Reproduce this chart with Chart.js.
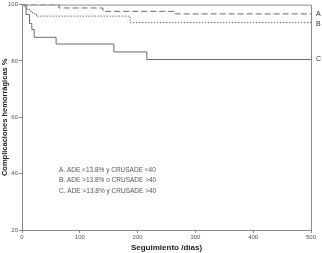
<!DOCTYPE html>
<html><head><meta charset="utf-8">
<script src="https://cdn.jsdelivr.net/npm/chart.js@4"></script>
<style>html,body{margin:0;padding:0;background:#fff;overflow:hidden}</style>
</head><body><canvas id="c" width="322" height="253" style="display:block"></canvas>
<script>
const daysA = [0, 64, 140, 265, 500];
const valsA = [100, 98.8, 97.6, 96.7, 96.7];
const daysB = [0, 4, 8, 13, 18, 25, 187, 500];
const valsB = [100, 99.2, 98.4, 97.6, 96.8, 95.9, 93.6, 93.6];
const daysC = [0, 7, 13, 17, 21, 59, 159, 216, 500];
const valsC = [100, 96.5, 93.3, 91.2, 88.4, 86.0, 83.2, 80.5, 80.5];
const endLabels = ['A', 'B', 'C'];
const legendLines = ['A. ADE <13.8% y CRUSADE <40', 'B. ADE >13.8% o CRUSADE >40', 'C. ADE >13.8% y CRUSADE >40'];
const yTicks = [20, 40, 60, 80, 100];
const xTicks = [0, 100, 200, 300, 400, 500];

const pts = (d, v) => d.map((x, i) => ({x, y: v[i]}));
const col = '#6a6a6a';
const extras = {
  id: 'extras',
  afterDraw(chart) {
    const {ctx, chartArea: a, scales} = chart;
    ctx.save();
    ctx.strokeStyle = '#8a8a8a'; ctx.lineWidth = 1;
    ctx.beginPath();
    ctx.moveTo(a.left, a.top + 0.5); ctx.lineTo(a.right + 0.5, a.top + 0.5); ctx.lineTo(a.right + 0.5, a.bottom);
    ctx.stroke();
    ctx.fillStyle = '#333'; ctx.font = '7px "Liberation Sans", Arial';
    ctx.textBaseline = 'middle';
    const finals = [valsA[valsA.length-1], valsB[valsB.length-1], valsC[valsC.length-1]];
    const offs = [0, 1.5, 0];
    endLabels.forEach((t, i) => ctx.fillText(t, a.right + 5, scales.y.getPixelForValue(finals[i]) + offs[i]));
    ctx.fillStyle = '#555'; ctx.font = '6.5px "Liberation Sans", Arial';
    legendLines.forEach((t, i) => ctx.fillText(t, 59, 170 + i * 10.5));
    ctx.restore();
  }
};
new Chart(document.getElementById('c'), {
  type: 'line',
  data: {datasets: [
    {data: pts(daysA, valsA), borderColor: col, borderWidth: 1, borderDash: [6, 3], stepped: true, pointRadius: 0, fill: false},
    {data: pts(daysB, valsB), borderColor: col, borderWidth: 1, borderDash: [1.5, 1.5], stepped: true, pointRadius: 0, fill: false},
    {data: pts(daysC, valsC), borderColor: col, borderWidth: 1, stepped: true, pointRadius: 0, fill: false}
  ]},
  options: {
    responsive: false, animation: false, devicePixelRatio: 1,
    layout: {padding: {top: 3, right: 11, left: 0, bottom: 0}},
    plugins: {legend: {display: false}, tooltip: {enabled: false}},
    scales: {
      x: {type: 'linear', min: 0, max: 500,
        afterBuildTicks: s => { s.ticks = xTicks.map(v => ({value: v})); },
        afterFit: s => { s.height = 23; },
        grid: {drawOnChartArea: false, drawTicks: true, tickLength: 3, color: '#888'},
        border: {color: '#888'},
        ticks: {font: {size: 6, family: '"Liberation Sans", Arial'}, color: '#555', padding: 1, maxRotation: 0},
        title: {display: true, text: 'Seguimiento /días)', font: {size: 8, weight: 'bold', family: '"Liberation Sans", Arial'}, color: '#222', padding: {top: 2, bottom: 0}}
      },
      y: {min: 20, max: 100,
        afterBuildTicks: s => { s.ticks = yTicks.map(v => ({value: v})); },
        afterFit: s => { s.width = 22; },
        grid: {drawOnChartArea: false, drawTicks: true, tickLength: 3, color: '#888'},
        border: {color: '#888'},
        ticks: {font: {size: 6, family: '"Liberation Sans", Arial'}, color: '#555', padding: 1},
        title: {display: true, text: 'Complicaciones hemorrágicas %', font: {size: 7.5, weight: 'bold', family: '"Liberation Sans", Arial'}, color: '#222', padding: {top: 0, bottom: 0}}
      }
    }
  },
  plugins: [extras]
});
</script></body></html>
